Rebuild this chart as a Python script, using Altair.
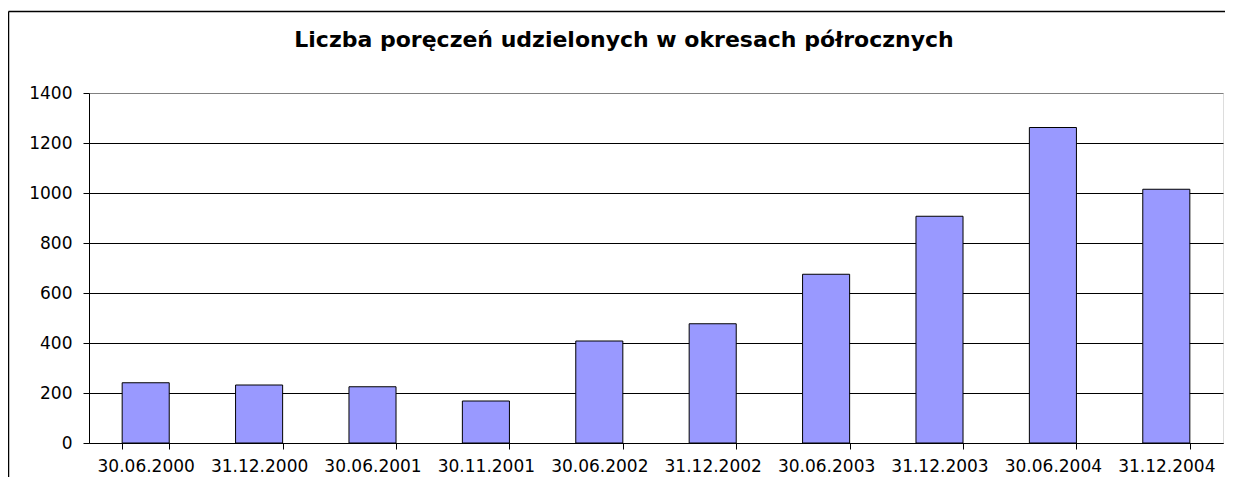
import altair as alt
import pandas as pd

categories = ["30.06.2000", "31.12.2000", "30.06.2001", "30.11.2001", "30.06.2002",
              "31.12.2002", "30.06.2003", "31.12.2003", "30.06.2004", "31.12.2004"]
values = [241, 232, 225, 168, 408, 477, 675, 907, 1262, 1015]
y_ticks = [0, 200, 400, 600, 800, 1000, 1200, 1400]
title_text = "Liczba poręczeń udzielonych w okresach półrocznych"

df = pd.DataFrame({"okres": categories, "liczba": values})
one_df = pd.DataFrame({"k": [0]})

bars = alt.Chart(df).mark_bar(
    fill="#9999FF", stroke="#000000", strokeWidth=1
).encode(
    x=alt.X("okres:N", sort=None, title=None,
            scale=alt.Scale(paddingInner=0.585, paddingOuter=0.2925),
            axis=alt.Axis(tickBand="extent", labelAngle=0, labelFont="DejaVu Sans",
                          labelFontSize=17, labelColor="#000000", domainColor="#000000",
                          tickColor="#000000", tickSize=6, labelPadding=9, grid=False)),
    y=alt.Y("liczba:Q", title=None,
            scale=alt.Scale(domain=[0, 1400], nice=False),
            axis=alt.Axis(values=y_ticks, format="d", labelFont="DejaVu Sans", labelFontSize=17,
                          labelColor="#000000", domainColor="#000000", tickColor="#000000",
                          tickSize=6, labelPadding=11, grid=True,
                          gridColor=alt.condition(alt.datum.value == 1400,
                                                  alt.value("#808080"), alt.value("#000000")),
                          gridWidth=1)),
)

frame_left = alt.Chart(one_df).mark_rule(color="#000000", strokeWidth=1.5).encode(
    x=alt.value(-80.5), y=alt.value(-81.5), y2=alt.value(400)
)
frame_top = alt.Chart(one_df).mark_rule(color="#000000", strokeWidth=1.5).encode(
    x=alt.value(-80.5), x2=alt.value(1140), y=alt.value(-81.5)
)
title = alt.Chart(one_df).mark_text(
    font="DejaVu Sans", fontSize=22, fontWeight="bold", color="#000000",
    align="center", baseline="alphabetic"
).encode(
    x=alt.value(535), y=alt.value(-46), text=alt.value(title_text)
)

chart = alt.layer(bars, frame_left, frame_top, title).properties(
    width=1134, height=350,
    autosize=alt.AutoSizeParams(type="none"),
    padding={"left": 81, "top": 85, "right": 2, "bottom": 34},
).configure_view(
    stroke="#808080", strokeWidth=1
).configure(background="#FFFFFF")

chart.save("out.html", embed_options={"renderer": "svg", "actions": False})
